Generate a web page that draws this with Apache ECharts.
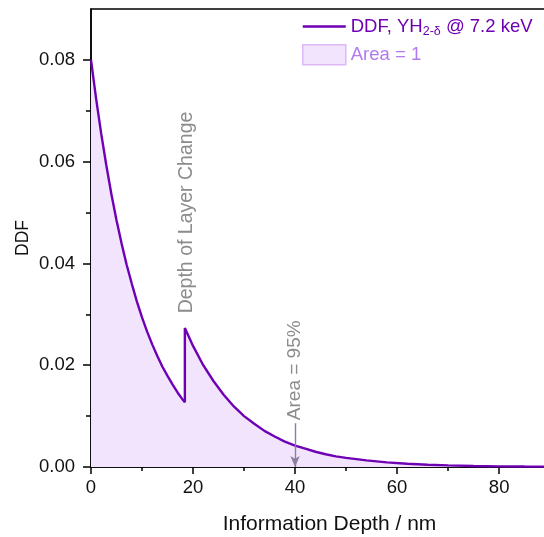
<!DOCTYPE html>
<html>
<head>
<meta charset="utf-8">
<script src="https://cdn.jsdelivr.net/npm/echarts@6/dist/echarts.min.js"></script>
<style>
  html, body { margin: 0; padding: 0; background: #fff; }
  #chart { width: 544px; height: 537px; }
</style>
</head>
<body>
<div id="chart"></div>
<script>
// Depth distribution function (DDF) sampled along the information depth (nm).
// The two entries at 18.4 nm mark the step at the layer boundary.
const depthNm = [0, 1, 2, 3, 4, 5, 6, 7, 8, 9, 10, 11, 12, 13, 14, 15, 16, 17, 18, 18.4,
  18.4, 20, 22, 24, 26, 28, 30, 32, 34, 36, 38, 40, 42, 44, 46, 48, 50,
  54, 58, 62, 66, 70, 75, 80, 85, 90, 95];
const ddfValues = [0.0800, 0.0724, 0.0655, 0.0593, 0.0536, 0.0485, 0.0439, 0.0397, 0.0360, 0.0325,
  0.0294, 0.0266, 0.0241, 0.0218, 0.0197, 0.0179, 0.0162, 0.0146, 0.0132, 0.0127,
  0.0273, 0.0238, 0.0200, 0.0169, 0.0142, 0.0119, 0.0100, 0.0085, 0.0071, 0.0060,
  0.0050, 0.0042, 0.0036, 0.0030, 0.0025, 0.0021, 0.0018,
  0.0013, 0.0009, 0.00064, 0.00045, 0.00032, 0.00021, 0.00013, 0.00009, 0.00006, 0.00004];

const xMajorTicks = [0, 20, 40, 60, 80];
const xMinorTicks = [10, 30, 50, 70, 90];
const yMajorTicks = [0, 0.02, 0.04, 0.06, 0.08];
const yMinorTicks = [0.01, 0.03, 0.05, 0.07];

const layerChangeDepth = 18.4;
const area95Depth = 40;

const lineName = 'DDF';
const areaName = 'Area = 1';

const FONT = '"Liberation Sans", Arial, Helvetica, sans-serif';
const LINE_COLOR = '#6f00b4';
const AREA_COLOR = '#f1e4fc';
const NOTE_COLOR = '#8c8c8c';

const points = depthNm.map((d, i) => [d, ddfValues[i]]);

const chart = echarts.init(document.getElementById('chart'), null, { renderer: 'canvas' });

const minorAxis = (extra) => Object.assign({
  show: true,
  axisLine: { show: false },
  axisLabel: { show: false },
  splitLine: { show: false }
}, extra);

chart.setOption({
  animation: false,
  backgroundColor: '#fff',
  textStyle: { fontFamily: FONT },
  grid: {
    left: 91, top: 9, width: 477, height: 458,
    outerBoundsMode: 'none',
    containLabel: false,
    show: true, borderColor: '#000', borderWidth: 1.5, backgroundColor: 'transparent'
  },
  legend: {
    orient: 'vertical',
    left: 302,
    top: 17,
    padding: 0,
    itemWidth: 43,
    itemHeight: 20,
    itemGap: 6,
    selectedMode: false,
    textStyle: { fontFamily: FONT, fontSize: 18.5 },
    formatter: (name) => name === lineName ? 'DDF, YH{sub|2-δ} @ 7.2 keV' : name,
    data: [
      {
        name: lineName,
        icon: 'path://M0,0H43V2.4H0Z',
        itemStyle: { color: LINE_COLOR },
        textStyle: {
          color: LINE_COLOR, fontSize: 18.5, fontFamily: FONT,
          rich: { sub: { fontSize: 12.5, color: LINE_COLOR, fontFamily: FONT, padding: [10, 0, 0, 0] } }
        }
      },
      {
        name: areaName,
        icon: 'rect',
        itemStyle: { color: AREA_COLOR, borderColor: '#dcb8f6', borderWidth: 1.5 },
        textStyle: { color: '#b27af0', fontSize: 18.5, fontFamily: FONT }
      }
    ]
  },
  xAxis: [
    {
      type: 'value', min: 0, max: 93.5,
      name: 'Information Depth / nm', nameLocation: 'middle', nameGap: 47,
      nameMoveOverlap: false,
      nameTextStyle: { fontSize: 21, color: '#111', fontFamily: FONT },
      axisLine: { show: true, lineStyle: { color: '#000', width: 1.5 } },
      axisTick: { show: true, inside: false, length: 7, customValues: xMajorTicks, lineStyle: { color: '#000', width: 1.5 } },
      axisLabel: { customValues: xMajorTicks, margin: 11, fontSize: 18.5, color: '#111', fontFamily: FONT },
      splitLine: { show: false }
    },
    minorAxis({
      type: 'value', min: 0, max: 93.5, position: 'bottom',
      axisTick: { show: true, inside: false, length: 4, customValues: xMinorTicks, lineStyle: { color: '#000', width: 1.5 } }
    })
  ],
  yAxis: [
    {
      type: 'value', min: 0, max: 0.09, position: 'left',
      name: 'DDF', nameLocation: 'middle', nameGap: 59,
      nameMoveOverlap: false,
      nameTextStyle: { fontSize: 17.5, color: '#111', fontFamily: FONT },
      axisLine: { show: true, lineStyle: { color: '#000', width: 1.5 } },
      axisTick: { show: true, inside: false, length: 8, customValues: yMajorTicks, lineStyle: { color: '#000', width: 1.5 } },
      axisLabel: {
        customValues: yMajorTicks, margin: 16, fontSize: 18.5, color: '#111', fontFamily: FONT,
        formatter: (v) => v.toFixed(2)
      },
      splitLine: { show: false }
    },
    minorAxis({
      type: 'value', min: 0, max: 0.09, position: 'left',
      axisTick: { show: true, inside: false, length: 5, customValues: yMinorTicks, lineStyle: { color: '#000', width: 1.5 } }
    })
  ],
  series: [
    {
      name: areaName,
      type: 'line',
      xAxisIndex: 0, yAxisIndex: 0,
      data: points,
      showSymbol: false, symbol: 'none',
      lineStyle: { width: 0, opacity: 0 },
      areaStyle: { color: AREA_COLOR, opacity: 1 },
      silent: true,
      z: 1
    },
    {
      name: lineName,
      type: 'line',
      xAxisIndex: 0, yAxisIndex: 0,
      data: points,
      showSymbol: false, symbol: 'none',
      lineStyle: { color: LINE_COLOR, width: 2.4 },
      itemStyle: { color: LINE_COLOR },
      silent: true,
      z: 3,
      markLine: {
        silent: true,
        symbol: ['none', 'arrow'],
        symbolSize: [7, 11],
        label: { show: false },
        lineStyle: { color: '#8a7e9f', width: 1.4, type: 'solid' },
        data: [[{ coord: [area95Depth, 0.0086] }, { coord: [area95Depth, 0] }]]
      }
    }
  ]
});

// Rotated notes anchored to data positions
const layerPt = chart.convertToPixel({ gridIndex: 0 }, [layerChangeDepth, 0.0302]);
const areaPt = chart.convertToPixel({ gridIndex: 0 }, [area95Depth, 0.0092]);

chart.setOption({
  graphic: [
    {
      type: 'text',
      x: layerPt[0] + 2, y: layerPt[1],
      rotation: Math.PI / 2,
      silent: true,
      style: {
        text: 'Depth of Layer Change',
        fill: NOTE_COLOR, font: '19.5px ' + FONT,
        align: 'left', verticalAlign: 'middle'
      },
      z: 10
    },
    {
      type: 'text',
      x: areaPt[0], y: areaPt[1],
      rotation: Math.PI / 2,
      silent: true,
      style: {
        text: 'Area = 95%',
        fill: NOTE_COLOR, font: '19px ' + FONT,
        align: 'left', verticalAlign: 'middle'
      },
      z: 10
    }
  ]
});
</script>
</body>
</html>
